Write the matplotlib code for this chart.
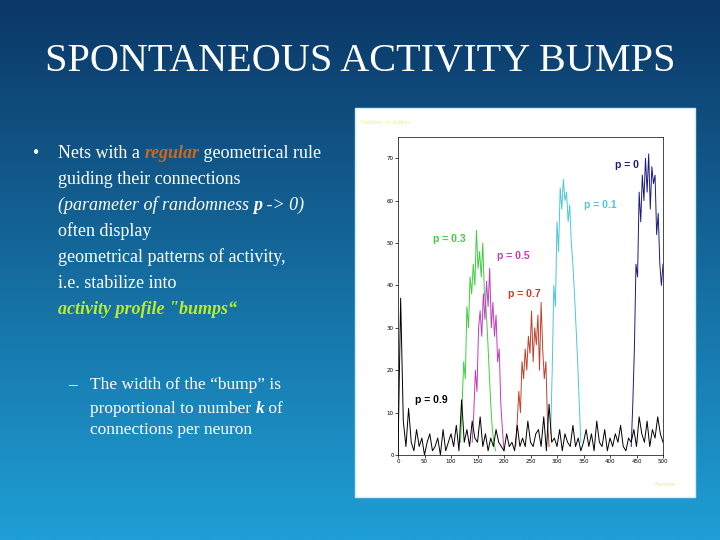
import matplotlib
matplotlib.use("Agg")
import matplotlib.pyplot as plt
import numpy as np
from matplotlib.patches import Rectangle
from matplotlib.colors import LinearSegmentedColormap

# ---- data ----
x_p0 = [440,443,446,449,452,455,458,461,464,467,470,473,476,479,482,485,488,491,494,497,500]
y_p0 = [2,12,25,45,42,62,55,66,60,70,62,71,58,68,64,66,52,57,45,40,45]
x_p01 = [288,291,294,297,300,303,306,309,312,315,318,321,324,327,330,333,336,339,342,345]
y_p01 = [5,20,40,35,55,48,63,58,65,60,62,55,59,50,45,38,30,22,12,3]
x_p03 = [118,121,124,127,130,133,136,139,142,145,148,151,154,157,160,163,166,169,172,175,178,181,184]
y_p03 = [3,12,22,18,35,30,42,38,45,40,53,44,48,42,50,38,35,28,20,12,6,3,1]
x_p05 = [140,143,146,149,152,155,158,161,164,167,170,173,176,179,182,185,188,191,194,197,200]
y_p05 = [3,10,20,15,30,34,28,38,32,41,35,44,30,36,28,33,22,25,12,6,1]
x_p07 = [222,225,228,231,234,237,240,243,246,249,252,255,258,261,264,267,270,273,276,279,282,285]
y_p07 = [2,8,15,10,22,18,25,20,28,24,34,22,30,26,33,20,36,25,18,22,8,2]
x_p09 = list(range(0, 501, 5))
y_p09 = [0,37,8,2,11,3,1,6,2,4,0,3,5,1,2,4,0,6,1,3,5,2,7,1,13,3,6,2,8,4,3,9,2,5,1,4,2,6,3,2,
         1,5,2,3,1,7,2,4,2,8,3,2,5,6,2,9,1,12,3,4,2,6,1,5,3,2,7,2,4,1,3,6,2,5,1,8,3,2,6,1,
         4,2,5,3,7,2,1,4,3,6,2,9,5,3,8,2,6,4,9,5,3]

labels = ["p = 0", "p = 0.1", "p = 0.3", "p = 0.5", "p = 0.7", "p = 0.9"]
label_pos = [(410, 68.5), (351, 59), (66, 51), (187, 47), (207, 38), (32, 13)]
colors = ["#1c1c80", "#4cc8d8", "#3ecf3e", "#c23ac2", "#c0402c", "#000000"]

fig = plt.figure(figsize=(7.2, 5.4), dpi=100)

bg = fig.add_axes([0, 0, 1, 1])
grad = np.linspace(0, 1, 256).reshape(-1, 1)
cmap = LinearSegmentedColormap.from_list("bg", ["#0b3766", "#1f9fd6"])
bg.imshow(grad, aspect="auto", cmap=cmap, extent=[0, 1, 0, 1], origin="upper")
bg.set_xlim(0, 1); bg.set_ylim(0, 1); bg.axis("off")

serif = "Liberation Serif"
fig.text(0.5, 1 - 62/540, "SPONTANEOUS ACTIVITY BUMPS", ha="center", va="center",
         color="white", fontsize=29, family=serif)

bg.add_patch(Rectangle((355/720, 1-497/540), 340/720, 389/540, facecolor="white",
                       edgecolor="#c8f0ff", lw=1.0, zorder=2))
bg.text(360/720, 1-122/540, "Number of spikes", color="#f0f080", fontsize=5, family=serif,
        va="center", zorder=3)
bg.text(655/720, 1-485/540, "Neuron", color="#f0f080", fontsize=5, family=serif,
        va="center", zorder=3)

ax = fig.add_axes([398/720, 1-455/540, 265/720, 318/540])
series = [(x_p0, y_p0), (x_p01, y_p01), (x_p03, y_p03), (x_p05, y_p05), (x_p07, y_p07), (x_p09, y_p09)]
for (xs, ys), c in zip(series, colors):
    ax.plot(xs, ys, color=c, lw=0.7)
for lab, (lx, ly), c in zip(labels, label_pos, colors):
    ax.text(lx, ly, lab, color=c, fontsize=7.5, fontweight="bold", va="center",
            family="Liberation Sans")
ax.set_xlim(0, 500); ax.set_ylim(0, 75)
ax.set_xticks(range(0, 501, 50)); ax.set_yticks(range(0, 71, 10))
ax.tick_params(labelsize=4, length=2, width=0.5, pad=1)
for s in ax.spines.values():
    s.set_linewidth(0.5)

fig.canvas.draw()
r = fig.canvas.get_renderer()

def line(x, y, parts, fs):
    cur = x
    for txt, kw in parts:
        t = fig.text(cur/720, 1-y/540, txt, fontsize=fs, family=serif, color=kw.get("c", "white"),
                     style=kw.get("st", "normal"), weight=kw.get("w", "normal"), va="center")
        cur += t.get_window_extent(r).width

fs = 13
fig.text(33/720, 1-153/540, "•", fontsize=fs, family=serif, color="white", va="center")
line(58, 153, [("Nets with a ", {}), ("regular", {"c": "#d06818", "st": "italic", "w": "bold"}),
               (" geometrical rule", {})], fs)
line(58, 179, [("guiding their connections", {})], fs)
line(58, 205, [("(parameter of randomness ", {"st": "italic"}), ("p", {"st": "italic", "w": "bold"}),
               (" -> 0)", {"st": "italic"})], fs)
line(58, 231, [("often display", {})], fs)
line(58, 257, [("geometrical patterns of activity,", {})], fs)
line(58, 283, [("i.e. stabilize into", {})], fs)
line(58, 309, [("activity profile \"bumps\u201c", {"c": "#b8f020", "st": "italic", "w": "bold"})], fs)

fs2 = 12.5
fig.text(68/720, 1-385/540, "–", fontsize=fs2, family=serif, color="white", va="center")
line(90, 385, [("The width of the \u201cbump\u201d is", {})], fs2)
line(90, 409, [("proportional to number ", {}), ("k", {"st": "italic", "w": "bold"}), (" of", {})], fs2)
line(90, 430, [("connections per neuron", {})], fs2)

fig.savefig("out.png", dpi=100)
